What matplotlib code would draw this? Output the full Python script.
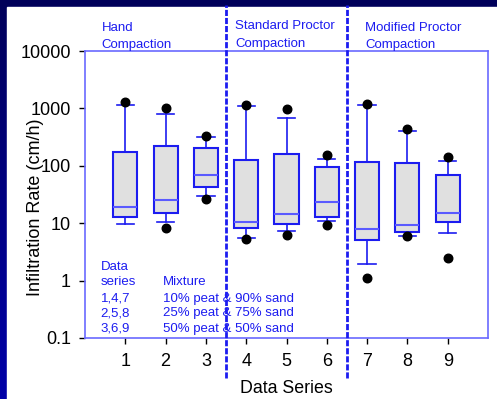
import numpy as np
import matplotlib
matplotlib.use("Agg")
from matplotlib import pyplot as plt
from matplotlib.patches import Rectangle

plt.rcParams['font.family'] = ['Liberation Sans', 'DejaVu Sans']

# values (cm/h)
series = [1, 2, 3, 4, 5, 6, 7, 8, 9]
whisk_lo = [9.6, 10.4, 29.6, 5.5, 7.2, 11.0, 1.96, 6.0, 6.7]
q1 = [13.0, 15.3, 42.9, 8.1, 9.6, 13.0, 5.0, 7.1, 10.5]
med = [19.1, 25.2, 70, 10.5, 14.5, 23.3, 7.8, 9.35, 15.1]
q3 = [176, 221, 204, 127, 163, 93.5, 116, 110, 70]
whisk_hi = [1156, 809, 320, 1082, 681, 134, 1140, 396, 122]
dot_hi = [1303, 1012, 333, 1140, 973, 155, 1206, 440, 143]
dot_lo = [np.nan, 8.1, 25.9, 5.3, 6.3, 9.35, 1.10, 6.0, 2.5]

groups = [("Hand", "Compaction"), ("Standard Proctor", "Compaction"),
          ("Modified Proctor", "Compaction")]
legend_col1 = ["Data", "series", "1,4,7", "2,5,8", "3,6,9"]
legend_col2 = ["", "Mixture", "10% peat & 90% sand", "25% peat & 75% sand",
               "50% peat & 50% sand"]

blue = "#1c1cf0"

fig = plt.figure(figsize=(4.97, 3.99), dpi=100)

# slide background: navy gradient with white panel
bg = fig.add_axes([0, 0, 1, 1], zorder=-10)
grad = np.linspace(0, 1, 256).reshape(-1, 1)
bg.imshow(grad, aspect="auto", cmap=matplotlib.colors.LinearSegmentedColormap.from_list(
    "navy", ["#00005a", "#0000a8"]), extent=[0, 1, 0, 1], origin="upper")
bg.add_patch(Rectangle((7 / 497, 0), 1, 1 - 7 / 399, color="white"))
bg.set_xlim(0, 1)
bg.set_ylim(0, 1)
bg.axis("off")

ax = fig.add_axes([85 / 497, 61 / 399, 403 / 497, 287 / 399])
ax.set_facecolor("none")

stats = []
for i in range(len(series)):
    stats.append(dict(whislo=whisk_lo[i], q1=q1[i], med=med[i], q3=q3[i],
                      whishi=whisk_hi[i], fliers=[]))
ax.bxp(stats, positions=series, widths=0.6, capwidths=0.43, patch_artist=True,
       showfliers=False,
       boxprops=dict(facecolor="#e0e0e0", edgecolor=blue, linewidth=1.5),
       medianprops=dict(color="#5a5aff", linewidth=1.5),
       whiskerprops=dict(color=blue, linewidth=1.2),
       capprops=dict(color=blue, linewidth=1.2))
ax.scatter(series, dot_hi, s=38, color="black", zorder=5)
ax.scatter(series, dot_lo, s=38, color="black", zorder=5)

ax.set_yscale("log")
ax.set_ylim(0.1, 10000)
ax.set_xlim(0, 10)
ax.set_yticks([0.1, 1, 10, 100, 1000, 10000])
ax.set_yticklabels(["0.1", "1", "10", "100", "1000", "10000"])
ax.yaxis.set_minor_locator(matplotlib.ticker.NullLocator())
ax.set_xticks(series)
ax.set_xticklabels([str(s) for s in series])
ax.tick_params(axis="both", direction="out", length=4.5, width=1, colors="black",
               labelsize=13)
ax.tick_params(axis="x", pad=6.5)
ax.tick_params(axis="y", pad=5.5)
for sp in ax.spines.values():
    sp.set_color("#6a6aff")
    sp.set_linewidth(1.2)
ax.set_xlabel("Data Series", fontsize=12.8)
ax.xaxis.label.set_va("bottom")
ax.xaxis.set_label_coords(0.5, -0.206)
ax.set_ylabel("Infiltration Rate (cm/h)", fontsize=13)
ax.yaxis.set_label_coords(-0.102, 0.455)

# group separators, extended beyond the axes
for xv in [3.5, 6.5]:
    ax.plot([xv, xv], [-0.14, 1.16], transform=ax.get_xaxis_transform(),
            color=blue, lw=2, ls=(0, (2.2, 0.7)), clip_on=False, zorder=6)

# group titles
for xf, ys, (l1, l2) in zip([0.041, 0.372, 0.695],
                            [(1.069, 1.010), (1.076, 1.015), (1.071, 1.010)],
                            groups):
    ax.text(xf, ys[0], l1, transform=ax.transAxes, color=blue, fontsize=9.5,
            va="baseline", ha="left")
    ax.text(xf, ys[1], l2, transform=ax.transAxes, color=blue, fontsize=9.5,
            va="baseline", ha="left")

# mixture legend
ys = [0.237, 0.183, 0.127, 0.075, 0.021]
for a, b, yf in zip(legend_col1, legend_col2, ys):
    ax.text(0.039, yf, a, transform=ax.transAxes, color=blue, fontsize=9.5,
            va="baseline", ha="left")
    ax.text(0.194, yf, b, transform=ax.transAxes, color=blue, fontsize=9.5,
            va="baseline", ha="left")

fig.savefig("out.png", dpi=100)
